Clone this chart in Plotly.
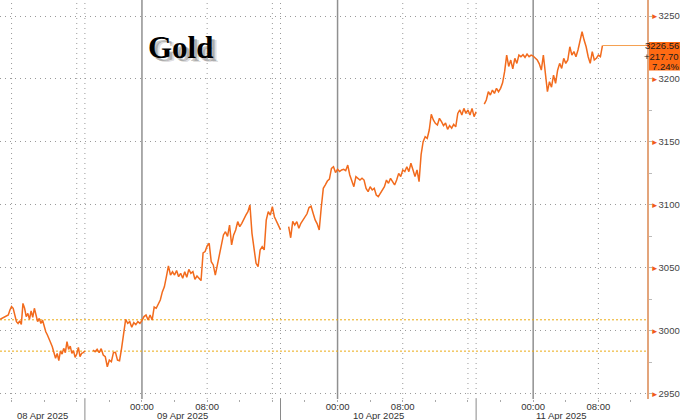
import pandas as pd
import plotly.graph_objects as go

# ---------------- data ----------------
# intraday gold price, one list per trading session (NY time)
seg_a_start = "2025-04-08 06:36"
seg_a_step_min = 12
seg_a_values = [3009.3, 3010.0, 3011.0, 3011.3, 3012.0, 3012.7, 3016.6, 3019.3, 3018.0, 3012.7,
                3007.4, 3006.0, 3008.0, 3005.2, 3021.9, 3018.0, 3011.3, 3014.0, 3009.2, 3016.0,
                3010.8, 3018.0, 3012.7, 3007.4, 3010.0, 3006.0, 3008.7, 3003.4, 2999.4, 2996.8,
                2992.8, 2990.7, 2987.5, 2983.5, 2978.3, 2982.2, 2976.4, 2984.1, 2981.7, 2986.2,
                2982.8, 2991.5, 2985.4, 2988.0, 2982.2, 2984.3, 2979.0, 2981.7, 2987.0, 2979.6,
                2982.2, 2982.8, 2984.1]

seg_b_start = "2025-04-08 18:00"
seg_b_step_min = 15
seg_b_values = [2984.9, 2983.5, 2985.4, 2982.8, 2986.0, 2980.9, 2979.6, 2971.6, 2976.9, 2975.6,
                2982.8, 2983.0, 2976.9, 2976.4, 2986.2, 3000.0, 3009.2, 3006.0, 3007.4, 3002.9,
                3006.6, 3005.0, 3007.4, 3006.0, 3008.2, 3011.4, 3012.7, 3008.7, 3012.7, 3008.7,
                3019.0, 3018.0, 3022.0, 3024.6, 3031.0, 3035.0, 3043.1, 3051.6, 3044.4, 3047.0,
                3044.4, 3048.0, 3043.1, 3045.8, 3041.8, 3047.1, 3042.6, 3048.9, 3045.8, 3047.1,
                3041.0, 3043.6, 3041.8, 3040.0, 3062.0, 3063.0, 3067.5, 3069.6, 3055.0, 3052.4,
                3044.4, 3052.4, 3059.0, 3070.0, 3076.2, 3078.8, 3075.0, 3084.1, 3068.3, 3076.2,
                3080.2, 3086.8, 3082.8, 3085.4, 3089.4, 3092.0, 3094.7, 3100.0, 3077.5, 3066.0,
                3053.7, 3051.1, 3064.3, 3066.9, 3064.3, 3088.0, 3094.7, 3092.0, 3098.7, 3090.7,
                3086.8, 3084.1, 3080.2]

seg_c_start = "2025-04-09 18:00"
seg_c_step_min = 15
seg_c_values = [3082.8, 3074.0, 3087.0, 3084.1, 3086.8, 3081.5, 3085.5, 3088.1, 3090.7, 3093.0,
                3098.0, 3099.0, 3093.4, 3088.1, 3085.0, 3080.2, 3098.0, 3113.2, 3116.0, 3119.0,
                3120.5, 3129.1, 3130.4, 3125.7, 3128.3, 3126.5, 3127.8, 3128.3, 3127.2, 3131.7,
                3123.8, 3119.8, 3114.5, 3122.5, 3121.2, 3119.8, 3121.2, 3119.8, 3113.2, 3110.6,
                3114.5, 3111.9, 3113.2, 3107.9, 3106.6, 3109.3, 3112.0, 3114.5, 3119.8, 3117.2,
                3121.2, 3118.5, 3115.9, 3119.8, 3125.1, 3122.5, 3127.8, 3126.5, 3130.4, 3126.5,
                3133.1, 3128.0, 3122.5, 3127.8, 3118.5, 3140.0, 3150.3, 3154.2, 3152.9, 3159.5,
                3172.0, 3167.5, 3164.8, 3163.5, 3168.8, 3166.1, 3163.0, 3165.0, 3160.0, 3163.0,
                3161.0, 3164.0, 3162.0, 3172.7, 3175.4, 3171.4, 3176.7, 3172.7, 3175.4, 3171.4,
                3176.7, 3170.1, 3174.0]

seg_d_start = "2025-04-10 18:00"
seg_d_step_min = 15
seg_d_values = [3180.0, 3183.3, 3189.9, 3187.3, 3191.2, 3188.6, 3192.6, 3189.9, 3192.6, 3197.0,
                3206.0, 3219.0, 3210.0, 3215.0, 3208.0, 3216.4, 3212.4, 3219.0, 3217.7, 3219.3,
                3217.2, 3219.8, 3217.7, 3219.0, 3218.2, 3216.4, 3215.1, 3212.0, 3207.1, 3219.0,
                3206.0, 3189.9, 3197.9, 3193.5, 3203.1, 3196.5, 3207.0, 3212.4, 3208.4, 3216.4,
                3212.4, 3215.1, 3225.6, 3219.0, 3221.7, 3217.7, 3223.0, 3229.6, 3237.5, 3230.9,
                3225.6, 3217.7, 3212.4, 3221.7, 3215.1, 3216.4, 3219.0, 3217.7, 3226.56]

prev_close = 3008.86          # upper dotted reference level
ref_low_level = 2984.0        # lower dotted reference level

title_text = "Gold"
y_ticks = [2950, 3000, 3050, 3100, 3150, 3200, 3250]
x_tick_times = ["2025-04-08 08:00", "2025-04-09 00:00", "2025-04-09 08:00", "2025-04-10 00:00",
                "2025-04-10 08:00", "2025-04-11 00:00", "2025-04-11 08:00"]
x_tick_labels = ["08:00", "00:00", "08:00", "00:00", "08:00", "00:00", "08:00"]
date_labels = ["08 Apr 2025", "09 Apr 2025", "10 Apr 2025", "11 Apr 2025"]
session_breaks = ["2025-04-08 17:00", "2025-04-09 17:00", "2025-04-10 17:00"]
day_starts = ["2025-04-09 00:00", "2025-04-10 00:00", "2025-04-11 00:00"]
grid_days = ["2025-04-08", "2025-04-09", "2025-04-10", "2025-04-11"]
grid_hours = ["08:00", "16:00"]
x_range = ["2025-04-08 06:35", "2025-04-11 13:58"]
y_range = [2946.0, 3262.7]

# ---------------- build the series ----------------
segments = [(seg_a_start, seg_a_step_min, seg_a_values),
            (seg_b_start, seg_b_step_min, seg_b_values),
            (seg_c_start, seg_c_step_min, seg_c_values),
            (seg_d_start, seg_d_step_min, seg_d_values)]
xs, ys = [], []
for start, step, vals in segments:
    t = pd.date_range(start, periods=len(vals), freq=f"{step}min")
    if xs:
        xs.append(t[0] - pd.Timedelta(minutes=step))
        ys.append(None)
    xs.extend(t)
    ys.extend(vals)

last_time = xs[-1]
last_val = seg_d_values[-1]
change = last_val - prev_close
pct = change / prev_close * 100
box_lines = [f"{last_val:.2f}", f"{change:+.2f}", f"{pct:.2f}%"]

AX_FONT = "Liberation Sans Narrow, Liberation Sans, Arial Narrow, sans-serif"
LINE_COL = "#F26B1D"
GRID_COL = "#9a9a9a"

fig = go.Figure()
fig.add_trace(go.Scatter(x=xs, y=ys, mode="lines", connectgaps=False,
                         line=dict(color=LINE_COL, width=1.5),
                         hoverinfo="skip", showlegend=False))

shapes = []
xr0, xr1 = pd.Timestamp(x_range[0]), pd.Timestamp(x_range[1])
for d in grid_days:
    for h in grid_hours:
        t = pd.Timestamp(f"{d} {h}")
        if xr0 <= t <= xr1:
            shapes.append(dict(type="line", xref="x", yref="paper", x0=t, x1=t, y0=0, y1=1,
                               line=dict(color=GRID_COL, width=1, dash="1px,4px"), layer="below"))
for s in session_breaks:
    t = pd.Timestamp(s)
    shapes.append(dict(type="line", xref="x", yref="paper", x0=t, x1=t, y0=0, y1=1,
                       line=dict(color=GRID_COL, width=1, dash="1px,4px"), layer="below"))
    shapes.append(dict(type="line", xref="x", yref="paper", x0=t, x1=t, y0=0, y1=-0.06,
                       line=dict(color="#8a8a8a", width=1), layer="above"))
for s in day_starts:
    t = pd.Timestamp(s)
    shapes.append(dict(type="line", xref="x", yref="paper", x0=t, x1=t, y0=0, y1=1,
                       line=dict(color="#909090", width=1.5), layer="below"))
for lvl in (prev_close, ref_low_level):
    shapes.append(dict(type="line", xref="paper", yref="y", x0=0, x1=1, y0=lvl, y1=lvl,
                       line=dict(color="#EBAA12", width=1, dash="2px,2px"), layer="below"))
shapes.append(dict(type="line", xref="x", yref="y", x0=last_time, x1=xr1, y0=last_val, y1=last_val,
                   line=dict(color="#F5A050", width=1), layer="above"))
shapes.append(dict(type="rect", xref="paper", xsizemode="pixel", xanchor=1, x0=2, x1=40,
                   yref="y", ysizemode="pixel", yanchor=last_val, y0=3.5, y1=-25,
                   fillcolor="#FF6A13", line=dict(width=0), layer="above"))
shapes.append(dict(type="path", xref="paper", xsizemode="pixel", xanchor=1,
                   yref="y", ysizemode="pixel", yanchor=last_val,
                   path="M3,3.5 L-1,0 L3,-3.5 Z",
                   fillcolor="#FF6A13", line=dict(width=0), layer="above"))

annotations = []
edges = [xr0] + [pd.Timestamp(s) for s in session_breaks] + [xr1]
for i, lab in enumerate(date_labels):
    c = edges[i] + (edges[i + 1] - edges[i]) / 2
    annotations.append(dict(x=c, xref="x", xanchor="center", y=0, yref="paper", yanchor="top",
                            yshift=-8.5, text=lab, showarrow=False,
                            font=dict(family=AX_FONT, size=9.5, color="#333")))
for i, s in enumerate(box_lines):
    annotations.append(dict(x=1, xref="paper", xanchor="right", xshift=34,
                            y=last_val, yref="y", yanchor="middle", yshift=-10.5 * i,
                            text=s, showarrow=False,
                            font=dict(family=AX_FONT, size=9.5, color="#1a1a1a")))
tx, ty = 180 / 647, 1 - 47 / 399
title_font = "Liberation Serif, Times New Roman, serif"
for dx, dy, a in [(5, -4, 0.13), (3, -3, 0.22)]:
    annotations.append(dict(x=tx, y=ty, xref="paper", yref="paper", xanchor="center",
                            yanchor="middle", xshift=dx, yshift=dy,
                            text=f"<b>{title_text}</b>", showarrow=False,
                            font=dict(family=title_font, size=31, color=f"rgba(0,0,0,{a})")))
annotations.append(dict(x=tx, y=ty, xref="paper", yref="paper", xanchor="center",
                        yanchor="middle", text=f"<b>{title_text}</b>", showarrow=False,
                        font=dict(family=title_font, size=31, color="#000")))

fig.update_layout(
    width=680, height=420,
    margin=dict(l=0, r=33, t=0, b=21),
    paper_bgcolor="white", plot_bgcolor="white",
    showlegend=False, shapes=shapes, annotations=annotations,
)
fig.update_xaxes(
    type="date", range=x_range, tickvals=x_tick_times, ticktext=x_tick_labels,
    showgrid=False, zeroline=False, showline=False,
    ticks="",
    tickfont=dict(family=AX_FONT, size=9.5, color="#333"),
    minor=dict(dtick=4 * 3600 * 1000, tick0="2025-04-08 00:00", ticks="outside",
               ticklen=2, tickcolor="#aaa", showgrid=False),
    fixedrange=True,
)
fig.update_yaxes(
    side="right", range=y_range, tickvals=y_ticks,
    ticktext=[f"<span style='color:#F05A1A;font-size:8px'>►</span>{v}" for v in y_ticks],
    showgrid=True, gridcolor=GRID_COL, griddash="1px,4px", gridwidth=1,
    zeroline=False, showline=True, linecolor="#E3A57C", linewidth=1.5,
    ticks="", tickfont=dict(family=AX_FONT, size=9.5, color="#444"),
    minor=dict(dtick=25, tick0=0, ticks="outside", ticklen=3, tickcolor="#bbb", showgrid=False),
    fixedrange=True,
)

fig.write_html("out.html", config={"displayModeBar": False},
               post_script="document.body.style.margin='0';document.body.style.overflow='hidden';")
